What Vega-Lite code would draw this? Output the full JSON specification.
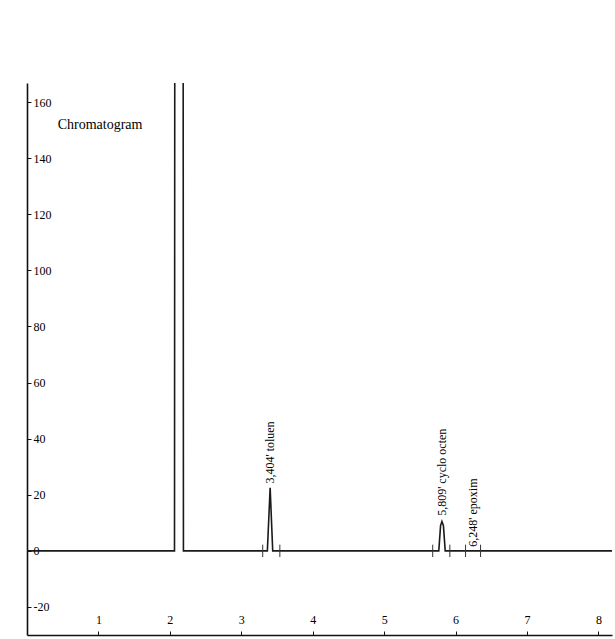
{
  "$schema": "https://vega.github.io/schema/vega-lite/v6.json",
  "autosize": {"type": "none"},
  "padding": {"left": 27, "top": 83, "right": 3, "bottom": 4},
  "width": 585,
  "height": 552,
  "background": "white",
  "config": {
    "view": {"stroke": null},
    "font": "Liberation Serif",
    "axis": {
      "grid": false,
      "title": null,
      "domainColor": "#111",
      "domainWidth": 1.6,
      "tickColor": "#111",
      "tickWidth": 1,
      "labelColor": "#000",
      "labelFont": "Liberation Serif",
      "labelFontSize": 12,
      "labelOverlap": false
    }
  },
  "datasets": {
    "trace": [
      {"t": 0, "v": 0},
      {"t": 2.065, "v": 0},
      {"t": 2.08, "v": 700},
      {"t": 2.175, "v": 700},
      {"t": 2.19, "v": 0},
      {"t": 3.365, "v": 0},
      {"t": 3.404, "v": 22.5},
      {"t": 3.44, "v": 0},
      {"t": 5.765, "v": 0},
      {"t": 5.79, "v": 9},
      {"t": 5.809, "v": 10.5},
      {"t": 5.83, "v": 9},
      {"t": 5.855, "v": 0},
      {"t": 8.19, "v": 0}
    ],
    "markers": [
      {"t": 3.3, "lo": -2.2, "hi": 2.2},
      {"t": 3.54, "lo": -2.2, "hi": 2.2},
      {"t": 5.68, "lo": -2.2, "hi": 2.2},
      {"t": 5.92, "lo": -2.2, "hi": 2.2},
      {"t": 6.14, "lo": -2.2, "hi": 2.2},
      {"t": 6.35, "lo": -2.2, "hi": 2.2}
    ],
    "peaks": [
      {"t": 3.404, "v": 24, "label": "3,404' toluen"},
      {"t": 5.809, "v": 12.5, "label": "5,809' cyclo octen"},
      {"t": 6.248, "v": 1.5, "label": "6,248' epoxim"}
    ],
    "titleText": [
      {"t": 0.43, "v": 151.8, "label": "Chromatogram"}
    ]
  },
  "layer": [
    {
      "data": {"name": "trace"},
      "mark": {"type": "line", "color": "#1a1a1a", "strokeWidth": 1.6, "clip": true},
      "encoding": {
        "x": {
          "field": "t", "type": "quantitative",
          "scale": {"domain": [0, 8.19], "nice": false, "zero": false},
          "axis": {
            "orient": "bottom", "values": [1, 2, 3, 4, 5, 6, 7, 8], "format": "d",
            "tickSize": -4, "labelPadding": -5, "labelBaseline": "bottom"
          }
        },
        "y": {
          "field": "v", "type": "quantitative",
          "scale": {"domain": [-30, 166.8], "nice": false, "zero": false},
          "axis": {
            "orient": "left", "values": [-20, 0, 20, 40, 60, 80, 100, 120, 140, 160],
            "tickSize": -4, "labelPadding": -2, "labelAlign": "left", "labelBaseline": "middle",
            "labelExpr": "replace(datum.label, '\u2212', '-')"
          }
        }
      }
    },
    {
      "data": {"name": "markers"},
      "mark": {"type": "rule", "color": "#333", "strokeWidth": 1},
      "encoding": {
        "x": {"field": "t", "type": "quantitative"},
        "y": {"field": "lo", "type": "quantitative"},
        "y2": {"field": "hi"}
      }
    },
    {
      "data": {"name": "peaks"},
      "mark": {"type": "text", "angle": 270, "align": "left", "baseline": "middle", "font": "Liberation Serif", "fontSize": 12, "color": "#000"},
      "encoding": {
        "x": {"field": "t", "type": "quantitative"},
        "y": {"field": "v", "type": "quantitative"},
        "text": {"field": "label"}
      }
    },
    {
      "data": {"name": "titleText"},
      "mark": {"type": "text", "align": "left", "baseline": "middle", "font": "Liberation Serif", "fontSize": 14, "color": "#000"},
      "encoding": {
        "x": {"field": "t", "type": "quantitative"},
        "y": {"field": "v", "type": "quantitative"},
        "text": {"field": "label"}
      }
    }
  ]
}
